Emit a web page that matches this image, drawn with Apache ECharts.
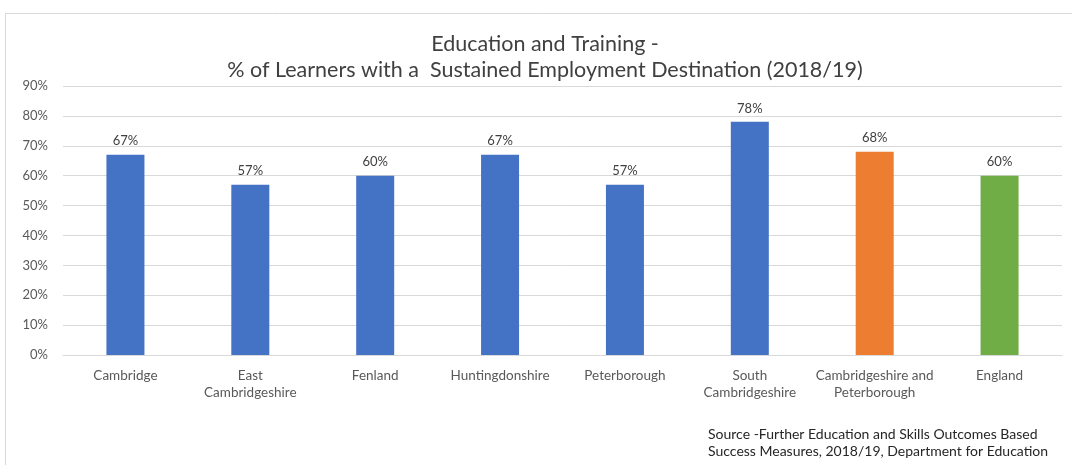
<!DOCTYPE html>
<html><head><meta charset="utf-8">
<script src="https://cdn.jsdelivr.net/npm/echarts@6/dist/echarts.min.js"></script>
<style>html,body{margin:0;padding:0;background:#fff}#c{width:1072px;height:465px}</style>
</head><body><div id="c"></div>
<script>
var categories = ['Cambridge', 'East\nCambridgeshire', 'Fenland', 'Huntingdonshire', 'Peterborough', 'South\nCambridgeshire', 'Cambridgeshire and\nPeterborough', 'England'];
var values = [67, 57, 60, 67, 57, 78, 68, 60];
var barColors = ['#4472C4', '#4472C4', '#4472C4', '#4472C4', '#4472C4', '#4472C4', '#ED7D31', '#70AD47'];
var titleLines = ['Education and Training -', '% of Learners with a  Sustained Employment Destination (2018/19)'];
var sourceLines = ['Source -Further Education and Skills Outcomes Based', 'Success Measures, 2018/19, Department for Education'];

var chart = echarts.init(document.getElementById('c'), null, {renderer: 'canvas'});
var font = 'Lato, "Open Sans", sans-serif';
chart.setOption({
  animation: false,
  backgroundColor: '#fff',
  title: {
    text: titleLines.join('\n'), left: 540, textAlign: 'center', top: 26,
    textStyle: {fontFamily: font, fontSize: 21.5, fontWeight: 'normal', color: '#404040', lineHeight: 26}
  },
  graphic: [
    {type: 'rect', shape: {x: 5.5, y: 13.5, width: 1080, height: 470}, style: {fill: 'none', stroke: '#d9d9d9', lineWidth: 1}},
    {type: 'text', left: 708, top: 426, style: {text: sourceLines.join('\n'), font: '14px ' + font, fill: '#262626', lineHeight: 17}}
  ],
  grid: {left: 63, right: 10, top: 86, bottom: 110},
  xAxis: {
    type: 'category', data: categories,
    axisLine: {lineStyle: {color: '#d9d9d9'}}, axisTick: {show: false},
    axisLabel: {fontFamily: font, fontSize: 13.5, color: '#595959', margin: 12, lineHeight: 17, interval: 0}
  },
  yAxis: {
    type: 'value', min: 0, max: 90, interval: 10,
    axisLabel: {formatter: '{value}%', fontFamily: font, fontSize: 13, color: '#595959', margin: 15},
    splitLine: {lineStyle: {color: '#d9d9d9'}},
    axisLine: {show: false}, axisTick: {show: false}
  },
  series: [{
    type: 'bar', barWidth: 38,
    data: values.map(function (v, i) { return {value: v, itemStyle: {color: barColors[i]}}; }),
    label: {show: true, position: 'top', formatter: '{c}%', fontFamily: font, fontSize: 13, color: '#404040', distance: 7}
  }]
});
</script></body></html>
